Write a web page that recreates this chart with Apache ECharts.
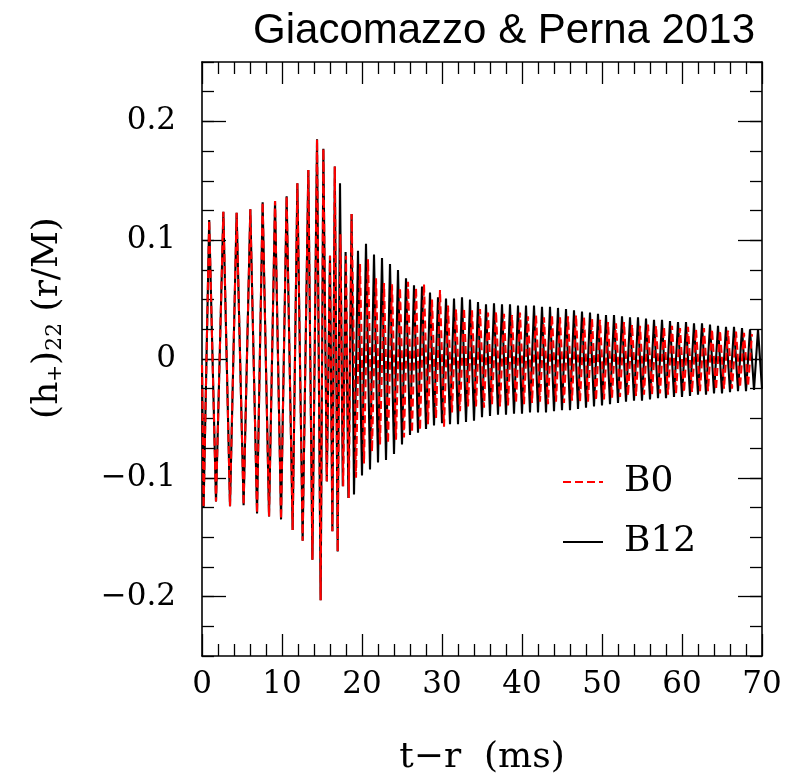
<!DOCTYPE html>
<html>
<head>
<meta charset="utf-8">
<script src="https://cdn.jsdelivr.net/npm/echarts@6/dist/echarts.min.js"></script>
<style>
html,body{margin:0;padding:0;background:#fff;overflow:hidden;}
#chart{width:791px;height:781px;}
</style>
</head>
<body>
<div id="chart"></div>
<script>
// ---- data (times in ms, strain (h+)22 r/M at successive extrema) ----
const titleText = 'Giacomazzo & Perna 2013';
const xTickLabels = ['0','10','20','30','40','50','60','70'];
const yTickValues = [-0.2, -0.1, 0, 0.1, 0.2];
const seriesNames = ['B0', 'B12'];

// common inspiral / merger part (both runs overlap)
const inspiralT = [0, 0.2, 0.9, 1.75, 2.67, 3.5, 4.33, 5.2, 6.04, 6.88, 7.58, 8.38, 9.13, 9.88, 10.58, 11.33, 11.92, 12.58, 13.29, 13.8, 14.38, 14.83, 15.17, 15.6, 16.0, 16.3, 16.6, 16.96];
const inspiralH = [-0.005, -0.125, 0.117, -0.120, 0.124, -0.124, 0.123, -0.123, 0.126, -0.130, 0.132, -0.1325, 0.133, -0.135, 0.137, -0.144, 0.148, -0.153, 0.159, -0.169, 0.185, -0.203, 0.177, -0.103, 0.087, -0.145, 0.162, -0.162];

// B12 just after merger
const b12MergerT = [17.25, 17.6, 17.95, 18.3, 18.7, 19.0];
const b12MergerH = [0.148, -0.107, 0.090, -0.117, 0.122, -0.114];
// B0 just after merger
const b0MergerT = [17.3, 17.65, 18.0, 18.35, 18.7];
const b0MergerH = [0.105, -0.107, 0.087, -0.117, 0.122];

// post-merger extrema, one every 0.5 ms
const postStep = 0.5;
const b12PostStart = 19.5;
const b12Post = [
  0.091, -0.098, 0.097, -0.093, 0.088, -0.087, 0.085, -0.085, 0.080, -0.080,
  0.075, -0.072, 0.068, -0.064, 0.062, -0.062, 0.061, -0.059, 0.056, -0.056,
  0.052, -0.054, 0.051, -0.055, 0.051, -0.055, 0.052, -0.053, 0.050, -0.052,
  0.048, -0.049, 0.046, -0.048, 0.047, -0.047, 0.046, -0.047, 0.046, -0.046,
  0.045, -0.046, 0.045, -0.045, 0.045, -0.045, 0.044, -0.045, 0.044, -0.044,
  0.043, -0.043, 0.042, -0.043, 0.041, -0.042, 0.040, -0.041, 0.039, -0.040,
  0.038, -0.039, 0.037, -0.038, 0.037, -0.037, 0.036, -0.036, 0.035, -0.035,
  0.035, -0.035, 0.034, -0.034, 0.033, -0.033, 0.033, -0.033, 0.032, -0.032,
  0.031, -0.032, 0.031, -0.031, 0.030, -0.030, 0.030, -0.030, 0.029, -0.029,
  0.028, -0.029, 0.027, -0.028, 0.027, -0.027, 0.026, -0.027, 0.025, -0.026,
  0.025, -0.025
];
const b0PostStart = 19.25;
const b0Post = [
  -0.100, 0.080, -0.088, 0.084, -0.078, 0.068, -0.072, 0.064, -0.071, 0.063,
  -0.068, 0.060, -0.066, 0.065, -0.062, 0.060, -0.060, 0.063, -0.055, 0.050,
  -0.050, 0.058, -0.057, 0.045, -0.045, 0.042, -0.044, 0.043, -0.040, 0.041,
  -0.040, 0.042, -0.041, 0.039, -0.038, 0.040, -0.040, 0.038, -0.039, 0.037,
  -0.037, 0.039, -0.038, 0.036, -0.037, 0.037, -0.036, 0.035, -0.038, 0.037,
  -0.036, 0.035, -0.037, 0.036, -0.035, 0.037, -0.036, 0.035, -0.036, 0.034,
  -0.035, 0.033, -0.034, 0.031, -0.033, 0.030, -0.032, 0.031, -0.031, 0.029,
  -0.031, 0.028, -0.030, 0.029, -0.030, 0.028, -0.029, 0.027, -0.030, 0.028,
  -0.029, 0.026, -0.028, 0.027, -0.028, 0.025, -0.027, 0.026, -0.027, 0.025,
  -0.026, 0.024, -0.025, 0.024, -0.025, 0.023, -0.024, 0.022, -0.023, 0.021
];

// ---- build series data ----
function pairs(ts, hs) { return ts.map((t, i) => [t, hs[i]]); }
function gridded(start, step, hs) { return hs.map((h, i) => [+(start + i * step).toFixed(3), h]); }
const b12Data = pairs(inspiralT, inspiralH).concat(pairs(b12MergerT, b12MergerH), gridded(b12PostStart, postStep, b12Post));
const b0Data = pairs(inspiralT, inspiralH).concat(pairs(b0MergerT, b0MergerH), gridded(b0PostStart, postStep, b0Post));

const serif = 'DejaVu Serif';
const chart = echarts.init(document.getElementById('chart'), null, {renderer: 'canvas', width: 791, height: 781});

function yLabel(v) {
  const k = Math.round(v * 10);
  if (Math.abs(v * 10 - k) > 1e-6) return '';
  const idx = yTickValues.findIndex(t => Math.abs(t - k / 10) < 1e-9);
  if (idx < 0) return '';
  if (k === 0) return '0';
  return (k < 0 ? '\u2212' : '') + (Math.abs(k) / 10).toFixed(1);
}

const axisLineStyle = {color: '#000', width: 1.6};
const tickStyle = {color: '#000', width: 1.3};

const option = {
  animation: false,
  backgroundColor: '#fff',
  title: {
    text: titleText,
    right: 36, top: 10, padding: 0,
    textStyle: {fontFamily: 'Liberation Sans', fontSize: 42, fontWeight: 'normal', color: '#000'}
  },
  grid: {left: 202, width: 560, top: 62, height: 600, containLabel: false},
  legend: {
    data: seriesNames,
    orient: 'vertical',
    left: 562, top: 452,
    padding: 0,
    itemGap: 0,
    itemWidth: 40,
    itemHeight: 14,
    selectedMode: false,
    itemStyle: {color: 'rgba(0,0,0,0)', borderWidth: 0, opacity: 0},
    textStyle: {fontFamily: serif, fontSize: 36, color: '#000', lineHeight: 36, padding: [0, 0, 24, 16]}
  },
  xAxis: [
    {
      type: 'value', position: 'bottom', min: 0, max: 70, interval: 10,
      axisLine: {show: true, onZero: false, lineStyle: axisLineStyle},
      axisTick: {show: true, inside: true, length: 22, lineStyle: tickStyle},
      minorTick: {show: true, splitNumber: 5, length: 12, lineStyle: tickStyle},
      splitLine: {show: false},
      axisLabel: {
        show: true, margin: 13, fontFamily: serif, fontSize: 31, color: '#000',
        formatter: v => { const i = Math.round(v / 10); return xTickLabels[i] !== undefined ? xTickLabels[i] : ''; }
      },
      name: 't\u2212r  (ms)', nameLocation: 'middle', nameGap: 84,
      nameTextStyle: {fontFamily: serif, fontSize: 36, color: '#000'}
    },
    {
      type: 'value', position: 'top', min: 0, max: 70, interval: 10,
      axisLine: {show: true, onZero: false, lineStyle: axisLineStyle},
      axisTick: {show: true, inside: true, length: 22, lineStyle: tickStyle},
      minorTick: {show: true, splitNumber: 5, length: 12, lineStyle: tickStyle},
      splitLine: {show: false},
      axisLabel: {show: false}
    }
  ],
  yAxis: [
    {
      type: 'value', position: 'left', offset: 0, min: -0.25, max: 0.25, interval: 0.025,
      axisLine: {show: true, onZero: false, lineStyle: axisLineStyle},
      axisTick: {show: true, inside: true, length: 12, lineStyle: tickStyle},
      splitLine: {show: false},
      axisLabel: {show: true, margin: 26, fontFamily: serif, fontSize: 31, color: '#000', formatter: yLabel}
    },
    {
      type: 'value', position: 'left', offset: 0, min: -0.25, max: 0.25,
      axisLine: {show: false, onZero: false},
      axisTick: {show: true, inside: true, length: 24, lineStyle: tickStyle, customValues: yTickValues},
      splitLine: {show: false},
      axisLabel: {show: false}
    },
    {
      type: 'value', position: 'right', offset: 0, min: -0.25, max: 0.25, interval: 0.025,
      axisLine: {show: true, onZero: false, lineStyle: axisLineStyle},
      axisTick: {show: true, inside: true, length: 12, lineStyle: tickStyle},
      splitLine: {show: false},
      axisLabel: {show: false}
    },
    {
      type: 'value', position: 'right', offset: 0, min: -0.25, max: 0.25,
      axisLine: {show: false, onZero: false},
      axisTick: {show: true, inside: true, length: 24, lineStyle: tickStyle, customValues: yTickValues},
      splitLine: {show: false},
      axisLabel: {show: false}
    }
  ],
  graphic: [
    {
      type: 'text', x: 46, y: 318, rotation: Math.PI / 2, silent: true,
      style: {
        text: '{a|(h}{s|+}{a|)}{d|22}{a| (r/M)}',
        align: 'center', verticalAlign: 'middle', fill: '#000',
        rich: {
          a: {fontFamily: serif, fontSize: 36, lineHeight: 40, verticalAlign: 'bottom', fill: '#000'},
          s: {fontFamily: serif, fontSize: 20, lineHeight: 20, padding: [16, 0, 0, 0], verticalAlign: 'bottom', fill: '#000'},
          d: {fontFamily: serif, fontSize: 22, lineHeight: 22, padding: [20, 0, 0, 0], verticalAlign: 'bottom', fill: '#000'}
        }
      }
    }
  ],
  series: [
    {
      name: 'B12', type: 'line', xAxisIndex: 0, yAxisIndex: 0,
      data: b12Data, showSymbol: false, symbol: 'none', smooth: false, sampling: null,
      lineStyle: {color: '#000', width: 2.1, type: 'solid'},
      itemStyle: {color: '#000'},
      z: 2
    },
    {
      name: 'B0', type: 'line', xAxisIndex: 0, yAxisIndex: 0,
      data: b0Data, showSymbol: false, symbol: 'none', smooth: false, sampling: null,
      lineStyle: {color: '#ff0000', width: 2.1, type: [8, 4]},
      itemStyle: {color: '#ff0000'},
      z: 3
    }
  ]
};
chart.setOption(option);
</script>
</body>
</html>
